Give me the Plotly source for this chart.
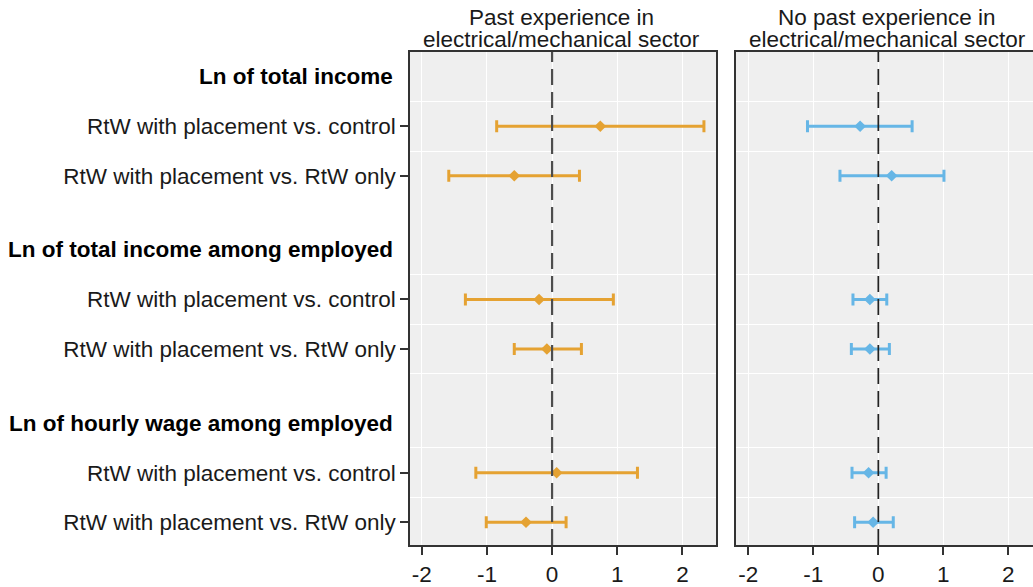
import plotly.graph_objects as go

# ---------------- data ----------------
outcomes = ["Ln of total income",
            "Ln of total income among employed",
            "Ln of hourly wage among employed"]
comparisons = ["RtW with placement vs. control",
               "RtW with placement vs. RtW only"]
panel_titles = [["Past experience in", "electrical/mechanical sector"],
                ["No past experience in", "electrical/mechanical sector"]]
x_ticks = [-2, -1, 0, 1, 2]

# order: outcome1 (control, RtW only), outcome2 (...), outcome3 (...)
past_est = [0.74, -0.58, -0.20, -0.08, 0.07, -0.40]
past_lo = [-0.85, -1.585, -1.33, -0.58, -1.17, -1.01]
past_hi = [2.33, 0.42, 0.94, 0.45, 1.31, 0.215]

nopast_est = [-0.28, 0.205, -0.13, -0.13, -0.15, -0.08]
nopast_lo = [-1.09, -0.59, -0.39, -0.415, -0.405, -0.365]
nopast_hi = [0.52, 1.01, 0.13, 0.17, 0.12, 0.23]

# ---------------- layout helpers ----------------
GROUP_STEP = 3.5
header_pos = [0.5 + GROUP_STEP * k for k in range(len(outcomes))]
row_pos = [h + 1 + j for h in header_pos for j in range(len(comparisons))]
row_text = [c for _ in outcomes for c in comparisons]
grid_pos = [1, 2, 4.5, 5.5, 6.5, 8, 9]

FONT = "Liberation Sans, Arial, Helvetica, sans-serif"
FS = 22.5
ORANGE = "#E5A232"
BLUE = "#66B6E6"
AXIS_COL = "#333333"
TXT = "#1a1a1a"

fig = go.Figure()


def add_panel(est, lo, hi, color, xa, ya):
    fig.add_trace(go.Scatter(
        x=est, y=row_pos, mode="markers",
        marker=dict(symbol="diamond", size=9, color=color),
        error_x=dict(type="data", symmetric=False,
                     array=[h - e for h, e in zip(hi, est)],
                     arrayminus=[e - l for e, l in zip(est, lo)],
                     color=color, thickness=3, width=6),
        xaxis=xa, yaxis=ya, showlegend=False, hoverinfo="skip"))


add_panel(past_est, past_lo, past_hi, ORANGE, "x", "y")
add_panel(nopast_est, nopast_lo, nopast_hi, BLUE, "x2", "y2")

y_range = [9.96, 0]
x_common = dict(tickvals=x_ticks, ticktext=[str(t) for t in x_ticks],
                showgrid=True, gridcolor="white", gridwidth=1,
                zeroline=False, showline=True, linecolor=AXIS_COL,
                linewidth=1.5, mirror=True, ticks="outside", ticklen=8,
                tickwidth=1.5, tickcolor=AXIS_COL,
                tickfont=dict(family=FONT, size=FS, color=TXT))
y_common = dict(range=y_range, showgrid=False, zeroline=False,
                minor=dict(tickvals=grid_pos, showgrid=True,
                           gridcolor="white", gridwidth=1, ticks=""))

fig.update_layout(
    width=1033, height=587,
    margin=dict(l=410, r=0, t=52, b=42),
    paper_bgcolor="white", plot_bgcolor="#EFEFEF",
    font=dict(family=FONT, size=FS, color=TXT),
    xaxis=dict(domain=[0, 306 / 623], range=[-2.18, 2.515], **x_common),
    xaxis2=dict(domain=[326 / 623, 1], range=[-2.19, 2.38], **x_common),
    yaxis=dict(anchor="x", tickvals=row_pos, ticktext=row_text,
               ticks="outside", ticklen=8, tickwidth=1.5,
               tickcolor=AXIS_COL, showline=True, linecolor=AXIS_COL,
               linewidth=1.5, mirror=True,
               tickfont=dict(family=FONT, size=FS, color=TXT), **y_common),
    yaxis2=dict(anchor="x2", showticklabels=False, ticks="",
                showline=True, linecolor=AXIS_COL, linewidth=1.5,
                mirror=False, **y_common),
)

# dashed zero lines
for xr, yr, col, w in (("x", "y domain", "#4d4d4d", 2.2),
                       ("x2", "y2 domain", "#222222", 1.7)):
    fig.add_shape(type="line", xref=xr, yref=yr, x0=0, x1=0, y0=0, y1=1,
                  line=dict(color=col, width=w, dash="16px,7px"))

# group headers
for h, name in zip(header_pos, outcomes):
    fig.add_annotation(xref="paper", yref="y", x=0, y=h, xanchor="right",
                       xshift=-15, text="<b>" + name + "</b>",
                       showarrow=False,
                       font=dict(family=FONT, size=FS, color="black"))

# panel titles
for xr, xc, lines in (("x", 0.15, panel_titles[0]),
                      ("x2", 0.14, panel_titles[1])):
    fig.add_annotation(xref=xr, yref="paper", x=xc, y=1, yanchor="middle",
                       yshift=35, text=lines[0], showarrow=False,
                       font=dict(family=FONT, size=FS, color=TXT))
    fig.add_annotation(xref=xr, yref="paper", x=xc, y=1, yanchor="middle",
                       yshift=13, text=lines[1], showarrow=False,
                       font=dict(family=FONT, size=FS, color=TXT))

fig.write_html(
    "out.html",
    config={"displayModeBar": False},
    post_script="document.body.style.margin='0';"
                "document.body.style.overflow='hidden';")
